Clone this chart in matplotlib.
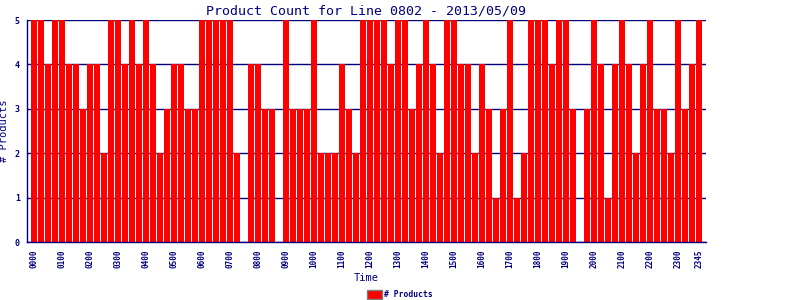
import matplotlib
matplotlib.use("Agg")
import matplotlib.pyplot as plt
from matplotlib.patches import Patch

values = [5, 5, 4, 5, 5, 4, 4, 3, 4, 4, 2, 5, 5, 4, 5, 4,
          5, 4, 2, 3, 4, 4, 3, 3, 5, 5, 5, 5, 5, 2, 0, 4,
          4, 3, 3, 0, 5, 3, 3, 3, 5, 2, 2, 2, 4, 3, 2, 5,
          5, 5, 5, 4, 5, 5, 3, 4, 5, 4, 2, 5, 5, 4, 4, 2,
          4, 3, 1, 3, 5, 1, 2, 5, 5, 5, 4, 5, 5, 3, 0, 3,
          5, 4, 1, 4, 5, 4, 2, 4, 5, 3, 3, 2, 5, 3, 4, 5]
times = ["%02d%02d" % (i // 4, (i % 4) * 15) for i in range(96)]
tick_labels = [t for i, t in enumerate(times) if i % 4 == 0] + ["2345"]
yticks = [0, 1, 2, 3, 4, 5]

navy = "#000080"
mono = "DejaVu Sans Mono"

fig = plt.figure(figsize=(8, 3), dpi=100)
ax = fig.add_axes([0.0334, 0.1923, 0.849, 0.741])
x = list(range(len(values)))
ax.bar(x, values, width=6/7, color="#FF0000", zorder=3, label="# Products")
ax.set_xlim(-1.05, 95.95)
ax.set_ylim(0, 5)
tick_pos = [i for i in x if i % 4 == 0] + [95]
ax.set_xticks(tick_pos)
ax.set_xticklabels(tick_labels, rotation=90, fontsize=5.5, color=navy,
                   family=mono, fontweight="bold")
ax.set_yticks(yticks)
ax.set_yticklabels([str(v) for v in yticks], fontsize=6, color=navy,
                   family=mono, fontweight="bold")
ax.tick_params(axis="both", length=0, pad=5)
ax.yaxis.grid(True, color=navy, linewidth=1, zorder=1)
ax.set_axisbelow(False)
for s in ["top", "right"]:
    ax.spines[s].set_visible(False)
for s in ["left", "bottom"]:
    ax.spines[s].set_color(navy)
    ax.spines[s].set_linewidth(1)
    ax.spines[s].set_zorder(4)
ax.set_title("Product Count for Line 0802 - 2013/05/09", fontsize=9.5,
             color=navy, family=mono, pad=4)
ax.set_ylabel("# Products", fontsize=7.5, color=navy, family=mono, labelpad=4)
ax.set_xlabel("Time", fontsize=7.5, color=navy, family=mono, labelpad=4)

handle = Patch(facecolor="#FF0000", edgecolor="#808080", linewidth=1)
fig.legend([handle], ["# Products"], loc="center", bbox_to_anchor=(0.5, 0.017),
           frameon=False, prop={"family": mono, "size": 5.8, "weight": "bold"},
           labelcolor=navy, handlelength=1.9, handleheight=1.3, handletextpad=0.3)

fig.savefig("out.png", dpi=100)
